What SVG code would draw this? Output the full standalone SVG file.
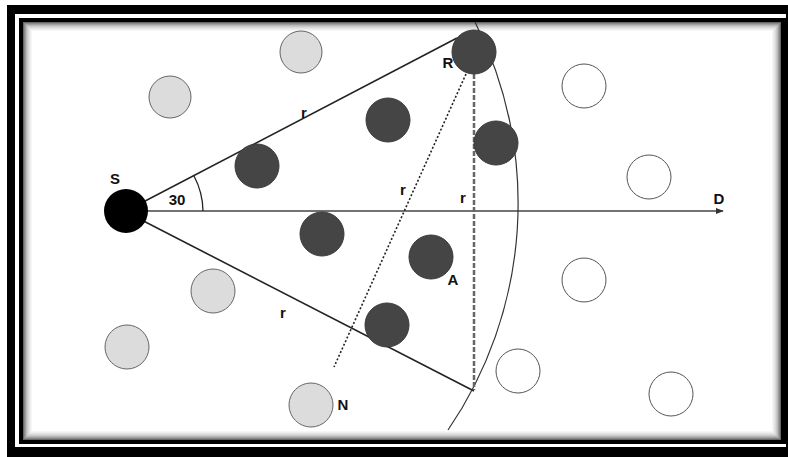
<svg xmlns="http://www.w3.org/2000/svg" width="788" height="457" viewBox="0 0 788 457">
<style>
.lbl{font-family:"Liberation Sans",Arial,sans-serif;font-weight:bold;font-size:15px;fill:#111;text-anchor:middle}
.dark{fill:#454545;stroke:#3a3a3a;stroke-width:1}
.light{fill:#dcdcdc;stroke:#666;stroke-width:1}
.empty{fill:#fff;stroke:#555;stroke-width:1}
.sh{fill:none}
</style>
<defs>
<marker id="arr" viewBox="0 0 10 10" refX="9" refY="5" markerWidth="8" markerHeight="8" markerUnits="userSpaceOnUse" orient="auto">
<path d="M0,1 L10,5 L0,9 Z" fill="#333"/>
</marker>
</defs>
<g id="frame">
<rect x="7" y="5" width="781" height="452" fill="#000"/>
<rect x="15" y="14" width="771" height="433" fill="#fff"/>
<rect x="19" y="18" width="767" height="426" fill="#000"/>
<rect x="23" y="22" width="758" height="418" fill="#fff"/>
<rect x="23.5" y="22.5" width="757" height="417" class="sh" stroke="#666" stroke-width="1"/>
<rect x="24.5" y="23.5" width="755" height="415" class="sh" stroke="#888" stroke-width="1"/>
<rect x="25.5" y="24.5" width="753" height="413" class="sh" stroke="#a0a0a0" stroke-width="1"/>
<rect x="26.5" y="25.5" width="751" height="411" class="sh" stroke="#b8b8b8" stroke-width="1"/>
<rect x="27.5" y="26.5" width="749" height="409" class="sh" stroke="#cacaca" stroke-width="1"/>
<rect x="28.5" y="27.5" width="747" height="407" class="sh" stroke="#d8d8d8" stroke-width="1"/>
<rect x="29.5" y="28.5" width="745" height="405" class="sh" stroke="#e4e4e4" stroke-width="1"/>
<rect x="30.5" y="29.5" width="743" height="403" class="sh" stroke="#eeeeee" stroke-width="1"/>
<rect x="31.5" y="30.5" width="741" height="401" class="sh" stroke="#f6f6f6" stroke-width="1"/>
</g>
<g id="connectors">
<line x1="126" y1="211" x2="723" y2="211" stroke="#444" stroke-width="1.3" marker-end="url(#arr)"/>
<line x1="126" y1="211" x2="457" y2="38" stroke="#222" stroke-width="1.6"/>
<line x1="126" y1="212" x2="474" y2="391" stroke="#222" stroke-width="1.6"/>
<path d="M194,176 A77,77 0 0 1 203,211" fill="none" stroke="#222" stroke-width="1.3"/>
<path d="M475,22 A402,402 0 0 1 448,430" fill="none" stroke="#333" stroke-width="1.2"/>
<line x1="466" y1="74" x2="334" y2="367" stroke="#222" stroke-width="1.6" stroke-dasharray="2,2"/>
<line x1="474" y1="74" x2="474" y2="390" stroke="#666" stroke-width="2.5" stroke-dasharray="5,2"/>
</g>
<g id="node-S"><circle cx="126" cy="211" r="22" fill="#000"/><text class="lbl" x="115" y="184">S</text></g>
<g id="node-R"><circle cx="474" cy="52" r="22" class="dark"/><text class="lbl" x="448" y="68">R</text></g>
<g id="node-d1"><circle cx="257" cy="166" r="22" class="dark"/></g>
<g id="node-d2"><circle cx="388" cy="120" r="22" class="dark"/></g>
<g id="node-d3"><circle cx="496" cy="143" r="22" class="dark"/></g>
<g id="node-d4"><circle cx="322" cy="234" r="22" class="dark"/></g>
<g id="node-A"><circle cx="431" cy="257" r="22" class="dark"/><text class="lbl" x="453" y="285">A</text></g>
<g id="node-d5"><circle cx="387" cy="325" r="22" class="dark"/></g>
<g id="node-g1"><circle cx="301" cy="52" r="21" class="light"/></g>
<g id="node-g2"><circle cx="170" cy="97" r="21" class="light"/></g>
<g id="node-g3"><circle cx="213" cy="291" r="22" class="light"/></g>
<g id="node-g4"><circle cx="127" cy="347" r="22" class="light"/></g>
<g id="node-N"><circle cx="311" cy="405" r="22" class="light"/><text class="lbl" x="343" y="410">N</text></g>
<g id="node-w1"><circle cx="584" cy="86" r="22" class="empty"/></g>
<g id="node-w2"><circle cx="649" cy="177" r="22" class="empty"/></g>
<g id="node-w3"><circle cx="584" cy="280" r="22" class="empty"/></g>
<g id="node-w4"><circle cx="518" cy="371" r="22" class="empty"/></g>
<g id="node-w5"><circle cx="671" cy="394" r="22" class="empty"/></g>
<g id="labels">
<text class="lbl" x="177" y="205">30</text>
<text class="lbl" x="304" y="118">r</text>
<text class="lbl" x="403" y="195">r</text>
<text class="lbl" x="463" y="203">r</text>
<text class="lbl" x="283" y="318">r</text>
<text class="lbl" x="719" y="204">D</text>
</g>
</svg>
